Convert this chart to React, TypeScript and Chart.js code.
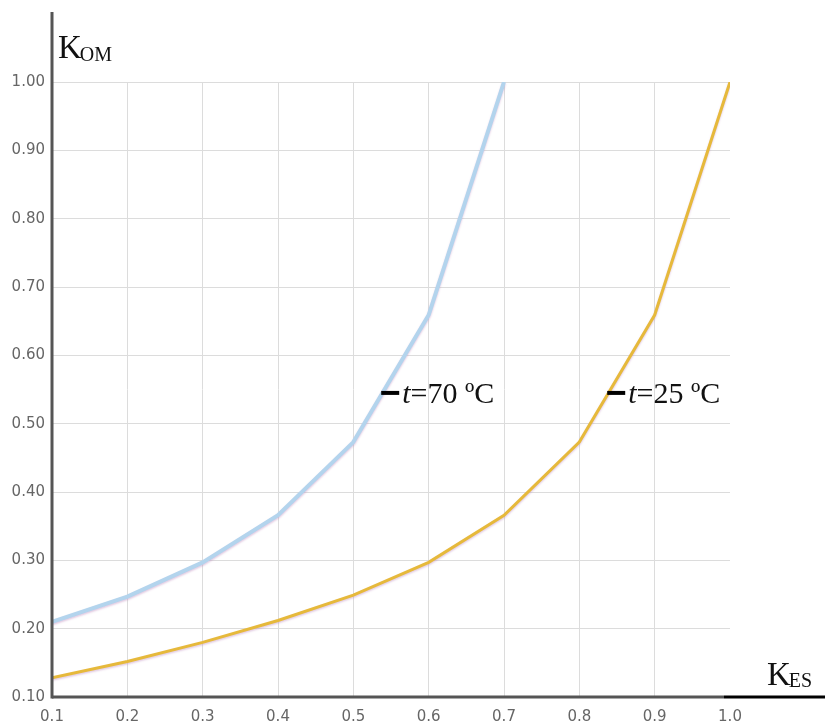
import React, { useEffect, useRef } from "react";
import { Chart, registerables } from "chart.js";

Chart.register(...registerables);

const kES = [0.1, 0.2, 0.3, 0.4, 0.5, 0.6, 0.7, 0.8, 0.9, 1.0];
const kom70 = [0.21, 0.247, 0.297, 0.366, 0.473, 0.659, 1.0];
const kom25 = [0.128, 0.152, 0.18, 0.212, 0.249, 0.297, 0.366, 0.473, 0.659, 1.0];
const label70 = "t=70 ºC";
const label25 = "t=25 ºC";
const label70At = { x: 0.537, y: 0.545 };
const label25At = { x: 0.837, y: 0.545 };

const overlay = {
  id: "overlay",
  beforeDatasetsDraw(chart: any) {
    const ctx = chart.ctx;
    ctx.save();
    ctx.shadowColor = "rgba(190,140,190,0.45)";
    ctx.shadowBlur = 2;
    ctx.shadowOffsetY = 1.5;
  },
  afterDatasetsDraw(chart: any) {
    chart.ctx.restore();
  },
  afterDraw(chart: any) {
    const ctx = chart.ctx;
    const xs = chart.scales.x;
    const ys = chart.scales.y;
    const area = chart.chartArea;
    ctx.save();
    // axes
    ctx.lineCap = "butt";
    ctx.lineWidth = 3;
    ctx.strokeStyle = "#555";
    ctx.beginPath();
    ctx.moveTo(area.left, 12);
    ctx.lineTo(area.left, area.bottom + 1.5);
    ctx.stroke();
    ctx.beginPath();
    ctx.moveTo(area.left, area.bottom);
    ctx.lineTo(area.right - 6, area.bottom);
    ctx.stroke();
    ctx.strokeStyle = "#000";
    ctx.beginPath();
    ctx.moveTo(area.right - 6, area.bottom);
    ctx.lineTo(chart.width, area.bottom);
    ctx.stroke();

    // axis titles
    ctx.fillStyle = "#111";
    ctx.textBaseline = "alphabetic";
    ctx.textAlign = "left";
    ctx.font = "33px 'Liberation Serif', 'Times New Roman', serif";
    ctx.fillText("K", area.left + 6, 58);
    let w = ctx.measureText("K").width;
    ctx.font = "20px 'Liberation Serif', 'Times New Roman', serif";
    ctx.fillText("OM", area.left + 6 + w - 2, 61);

    ctx.font = "33px 'Liberation Serif', 'Times New Roman', serif";
    ctx.fillText("K", 767, 685);
    w = ctx.measureText("K").width;
    ctx.font = "20px 'Liberation Serif', 'Times New Roman', serif";
    ctx.fillText("ES", 767 + w - 2, 687);

    // curve labels
    const drawLabel = (txt: string, at: { x: number; y: number }) => {
      const px = xs.getPixelForValue(at.x);
      const py = ys.getPixelForValue(at.y);
      ctx.strokeStyle = "#000";
      ctx.lineWidth = 4;
      ctx.beginPath();
      ctx.moveTo(px, py);
      ctx.lineTo(px + 18, py);
      ctx.stroke();
      ctx.fillStyle = "#111";
      ctx.font = "italic 30px 'Liberation Serif', 'Times New Roman', serif";
      const tx = px + 21;
      ctx.fillText(txt[0], tx, py + 10);
      const tw = ctx.measureText(txt[0]).width;
      ctx.font = "30px 'Liberation Serif', 'Times New Roman', serif";
      ctx.fillText(txt.slice(1), tx + tw, py + 10);
    };
    drawLabel(label70, label70At);
    drawLabel(label25, label25At);
    ctx.restore();
  },
};

export default function App() {
  const ref = useRef<HTMLCanvasElement>(null);
  useEffect(() => {
    if (!ref.current) return;
    const chart = new Chart(ref.current, {
      type: "line",
      data: {
        datasets: [
          {
            label: "70",
            data: kom70.map((v, i) => ({ x: kES[i], y: v })),
            borderColor: "#b3d4ed",
            borderWidth: 4,
            pointRadius: 0,
            tension: 0,
          },
          {
            label: "25",
            data: kom25.map((v, i) => ({ x: kES[i], y: v })),
            borderColor: "#e6b93b",
            borderWidth: 3,
            pointRadius: 0,
            tension: 0,
          },
        ],
      },
      options: {
        responsive: false,
        animation: false,
        devicePixelRatio: 1,
        layout: { padding: { top: 82, right: 95, left: 0, bottom: 0 } },
        plugins: { legend: { display: false }, tooltip: { enabled: false } },
        scales: {
          x: {
            type: "linear",
            min: 0.1,
            max: 1.0,
            border: { display: false },
            grid: {
              drawTicks: false,
              color: (c: any) =>
                c.tick && (c.tick.value < 0.15 || c.tick.value > 0.95) ? "rgba(0,0,0,0)" : "#dcdcdc",
            },
            ticks: {
              stepSize: 0.1,
              padding: 11,
              color: "#666",
              font: { family: "'DejaVu Sans', Verdana, sans-serif", size: 15 },
              callback: (v: any) => Number(v).toFixed(1),
            },
            afterFit: (s: any) => {
              s.height = 28;
            },
          },
          y: {
            type: "linear",
            min: 0.1,
            max: 1.0,
            border: { display: false },
            grid: { drawTicks: false, color: "#dcdcdc" },
            ticks: {
              stepSize: 0.1,
              padding: 7,
              color: "#666",
              font: { family: "'DejaVu Sans', Verdana, sans-serif", size: 15 },
              callback: (v: any) => Number(v).toFixed(2),
            },
            afterFit: (s: any) => {
              s.width = 52;
            },
          },
        },
      },
      plugins: [overlay],
    });
    return () => chart.destroy();
  }, []);
  return (
    <canvas
      ref={ref}
      width={825}
      height={725}
      style={{ position: "absolute", left: 0, top: 0, width: 825, height: 725, display: "block" }}
    />
  );
}
